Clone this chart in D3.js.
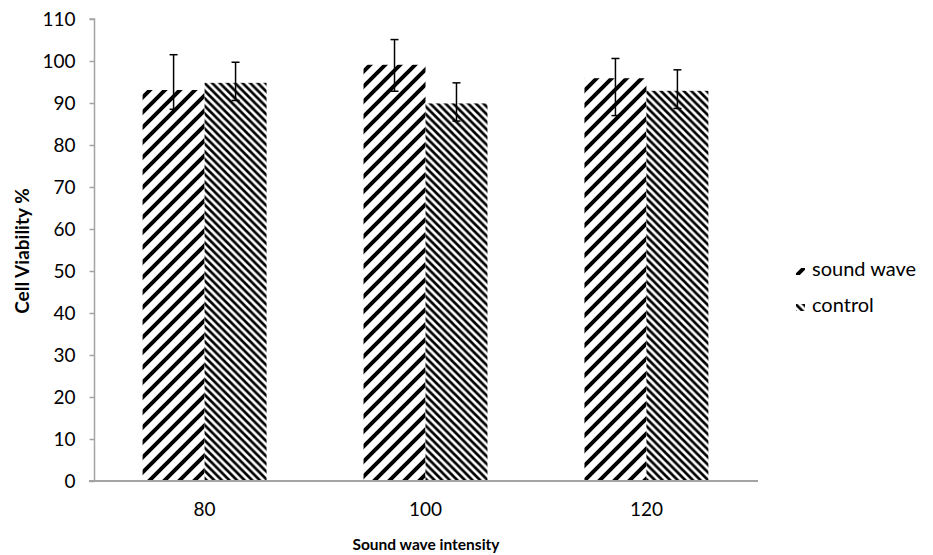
<!DOCTYPE html>
<html><head><meta charset="utf-8">
<script src="https://cdn.jsdelivr.net/npm/d3@7"></script>
<style>body{margin:0;background:#fff}svg{display:block}</style>
</head><body>
<svg id="chart" width="933" height="555"></svg>
<script>
const categories = ["80", "100", "120"];
const seriesNames = ["sound wave", "control"];
const soundWave = [93.1, 99.1, 95.9];
const control = [94.8, 89.9, 92.9];
const soundWaveErrUp = [8.4, 6.0, 4.7];
const soundWaveErrDown = [4.6, 6.3, 8.9];
const controlErrUp = [4.9, 4.9, 5.0];
const controlErrDown = [4.2, 4.2, 4.2];
const yTicks = [0, 10, 20, 30, 40, 50, 60, 70, 80, 90, 100, 110];

const values = [soundWave, control];
const errUp = [soundWaveErrUp, controlErrUp];
const errDown = [soundWaveErrDown, controlErrDown];
const rows = [];
categories.forEach((c, i) => seriesNames.forEach((s, j) => rows.push({
  cat: c, series: s, si: j, v: values[j][i], up: errUp[j][i], down: errDown[j][i]
})));

const svg = d3.select("#chart");
const font = "Lato, 'Open Sans', sans-serif";
const axisColor = "#a3a3a3";

const x = d3.scaleBand().domain(categories).range([94, 757]).paddingInner(0.439).paddingOuter(0.22);
const xs = d3.scaleBand().domain(seriesNames).range([0, x.bandwidth()]).padding(0);
const y = d3.scaleLinear().domain([0, 110]).range([481, 19]);

// patterns
const defs = svg.append("defs");
const P1 = 15, w1 = 5.6;
const p1 = defs.append("pattern").attr("id", "pat-sw").attr("patternUnits", "userSpaceOnUse")
  .attr("width", P1).attr("height", P1);
p1.append("rect").attr("width", P1).attr("height", P1).attr("fill", "#fff");
p1.append("path")
  .attr("d", `M${-P1},${P1}L${P1},${-P1}M${-P1},${2*P1}L${2*P1},${-P1}M0,${2*P1}L${2*P1},0`)
  .attr("stroke", "#000").attr("stroke-width", w1 / Math.SQRT2);
const P2 = 7.6, w2 = 3.8;
const p2 = defs.append("pattern").attr("id", "pat-ctl").attr("patternUnits", "userSpaceOnUse")
  .attr("width", P2).attr("height", P2);
p2.append("rect").attr("width", P2).attr("height", P2).attr("fill", "#fff");
p2.append("path")
  .attr("d", `M${-P2},${-P2}L${2*P2},${2*P2}M${-P2},0L${P2},${2*P2}M0,${-P2}L${2*P2},${P2}`)
  .attr("stroke", "#000").attr("stroke-width", w2 / Math.SQRT2);
const fills = {"sound wave": "url(#pat-sw)", "control": "url(#pat-ctl)"};

// y axis
const yAxis = svg.append("g").attr("transform", "translate(94.5,0)")
  .call(d3.axisLeft(y).tickValues(yTicks).tickSize(5).tickPadding(14).tickFormat(d3.format("d")));
yAxis.selectAll("path,line").attr("stroke", axisColor).attr("stroke-width", 1.5);
yAxis.select(".domain").attr("d", `M-5,${y(110)}H0V${y(0)}`);
yAxis.selectAll("text").attr("font-family", font).attr("font-size", 19).attr("fill", "#000");

// bars
svg.append("g").selectAll("rect").data(rows).join("rect")
  .attr("x", d => x(d.cat) + xs(d.series))
  .attr("y", d => y(d.v))
  .attr("width", xs.bandwidth())
  .attr("height", d => y(0) - y(d.v))
  .attr("fill", d => fills[d.series]);

// x axis
const xAxis = svg.append("g").attr("transform", `translate(0,${y(0)})`)
  .call(d3.axisBottom(x).tickSize(0).tickPadding(22));
xAxis.select(".domain").attr("d", "M89,0H758").attr("stroke", axisColor).attr("stroke-width", 2);
xAxis.selectAll("text").attr("font-family", font).attr("font-size", 19).attr("fill", "#000");

// error bars
const eb = svg.append("g").attr("stroke", "#000").attr("stroke-width", 1.5);
rows.forEach(d => {
  const cx = x(d.cat) + xs(d.series) + xs.bandwidth() / 2;
  const t = y(d.v + d.up), b = y(d.v - d.down);
  eb.append("line").attr("x1", cx).attr("x2", cx).attr("y1", t).attr("y2", b);
  eb.append("line").attr("x1", cx - 4).attr("x2", cx + 4).attr("y1", t).attr("y2", t);
  eb.append("line").attr("x1", cx - 4).attr("x2", cx + 4).attr("y1", b).attr("y2", b);
});

// axis titles
svg.append("text").attr("transform", "translate(29,251) rotate(-90)")
  .attr("text-anchor", "middle").attr("font-family", font).attr("font-weight", "bold")
  .attr("font-size", 19).text("Cell Viability %");
svg.append("text").attr("x", 426).attr("y", 550)
  .attr("text-anchor", "middle").attr("font-family", font).attr("font-weight", "bold")
  .attr("font-size", 15.5).text("Sound wave intensity");

// legend
const legendY = [276, 312];
const lg = svg.append("g").selectAll("g").data(seriesNames).join("g")
  .attr("transform", (d, i) => `translate(796,${legendY[i]})`);
lg.append("rect").attr("x", 0).attr("y", -8).attr("width", 9).attr("height", 7)
  .attr("fill", d => fills[d]);
lg.append("text").attr("x", 16).attr("y", 0).attr("font-family", font).attr("font-size", 20)
  .text(d => d);
</script>
</body></html>
